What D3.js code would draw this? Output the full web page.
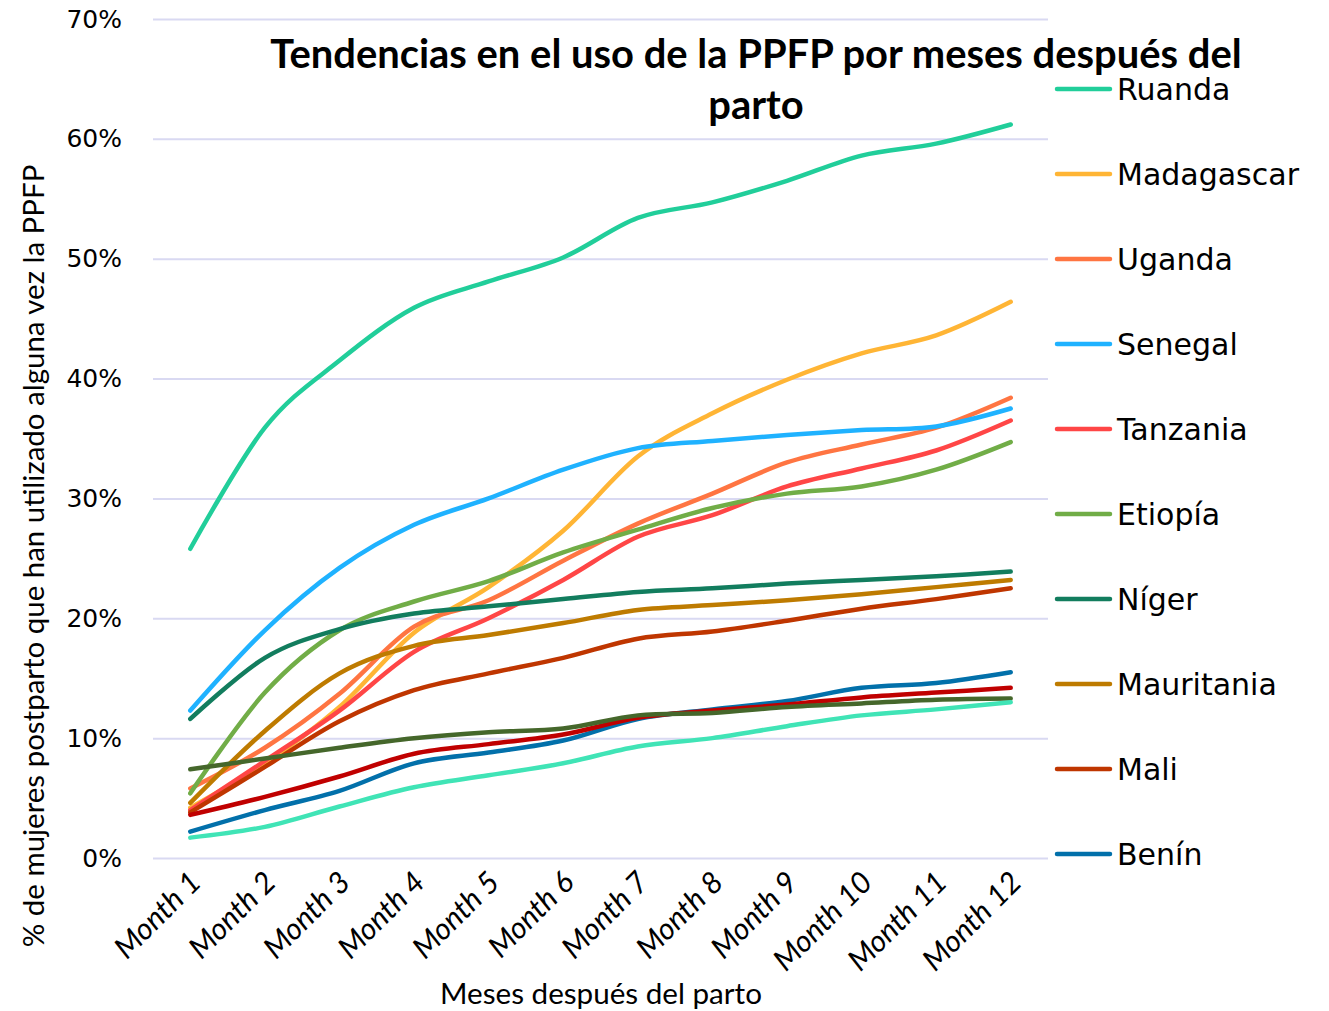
<!DOCTYPE html>
<html>
<head>
<meta charset="utf-8">
<script src="https://cdn.jsdelivr.net/npm/d3@7"></script>
<style>
  body { margin: 0; background: #fff; }
  svg { display: block; }
</style>
</head>
<body>
<svg id="chart" width="1329" height="1011"></svg>
<script>
// data (% of women)
var months = ["Month 1", "Month 2", "Month 3", "Month 4", "Month 5", "Month 6",
              "Month 7", "Month 8", "Month 9", "Month 10", "Month 11", "Month 12"];
var yTicks = [0, 0.1, 0.2, 0.3, 0.4, 0.5, 0.6, 0.7];

var ruanda     = [25.8, 35.9, 41.5, 45.9, 48.1, 50.1, 53.4, 54.7, 56.5, 58.6, 59.6, 61.2];
var madagascar = [4.2, 7.9, 12.6, 18.8, 22.6, 27.3, 33.5, 37.1, 39.9, 42.1, 43.6, 46.4];
var uganda     = [5.8, 9.2, 13.7, 19.3, 21.5, 24.8, 27.9, 30.4, 33.0, 34.5, 35.9, 38.4];
var senegal    = [12.3, 19.0, 24.2, 27.8, 30.0, 32.4, 34.2, 34.8, 35.3, 35.7, 36.0, 37.5];
var tanzania   = [4.0, 8.1, 12.3, 17.2, 20.0, 23.2, 26.8, 28.6, 31.0, 32.5, 34.0, 36.5];
var etiopia    = [5.4, 13.8, 19.0, 21.4, 23.1, 25.5, 27.4, 29.2, 30.4, 31.0, 32.4, 34.7];
var niger      = [11.6, 16.7, 19.1, 20.4, 21.0, 21.6, 22.2, 22.5, 22.9, 23.2, 23.5, 23.9];
var mauritania = [4.6, 10.6, 15.4, 17.7, 18.6, 19.6, 20.7, 21.1, 21.5, 22.0, 22.6, 23.2];
var mali       = [3.8, 7.6, 11.4, 14.0, 15.4, 16.7, 18.3, 18.9, 19.8, 20.8, 21.6, 22.5];
var benin      = [2.2, 4.0, 5.6, 7.9, 8.8, 9.8, 11.6, 12.4, 13.1, 14.2, 14.6, 15.5];
// three more series drawn in the chart but cut off from its legend
var serie11    = [3.6, 5.1, 6.8, 8.7, 9.5, 10.3, 11.7, 12.3, 12.8, 13.4, 13.8, 14.2];
var serie12    = [7.4, 8.3, 9.2, 10.0, 10.5, 10.8, 11.9, 12.1, 12.6, 12.9, 13.2, 13.3];
var serie13    = [1.7, 2.6, 4.3, 5.9, 6.9, 7.9, 9.3, 10.0, 11.0, 11.9, 12.4, 13.0];

var series = [
  {name: "Ruanda",     values: ruanda,     color: "#21CE9A", legend: true},
  {name: "Madagascar", values: madagascar, color: "#FFB535", legend: true},
  {name: "Uganda",     values: uganda,     color: "#FF7542", legend: true},
  {name: "Senegal",    values: senegal,    color: "#1FB2FF", legend: true},
  {name: "Tanzania",   values: tanzania,   color: "#FF4646", legend: true},
  {name: "Etiopía",    values: etiopia,    color: "#71AD47", legend: true},
  {name: "Níger",      values: niger,      color: "#127D5E", legend: true},
  {name: "Mauritania", values: mauritania, color: "#BE7B00", legend: true},
  {name: "Mali",       values: mali,       color: "#BF3600", legend: true},
  {name: "Benín",      values: benin,      color: "#0270AA", legend: true},
  {name: "Serie 11",   values: serie11,    color: "#C00000", legend: false},
  {name: "Serie 12",   values: serie12,    color: "#45672B", legend: false},
  {name: "Serie 13",   values: serie13,    color: "#40E4B6", legend: false}
];

var svg = d3.select("#chart"),
    plot = {left: 153, right: 1048, top: 19, bottom: 858};

var xScale = d3.scalePoint().domain(months).range([plot.left, plot.right]).padding(0.5),
    yScale = d3.scaleLinear().domain([0, 0.7]).range([plot.bottom, plot.top]);

// shrink a text's font until it fits a given width
function fitWidth(sel, w) {
  var size = parseFloat(sel.attr("font-size"));
  var len = sel.node().getComputedTextLength();
  sel.attr("font-size", size * w / len);
}

// gridlines + y labels
var yAxis = d3.axisLeft(yScale)
    .tickValues(yTicks)
    .tickSize(-(plot.right - plot.left))
    .tickFormat(d3.format(".0%"));

svg.append("g")
    .attr("class", "axis axis--y")
    .attr("transform", "translate(" + plot.left + ",0)")
    .call(yAxis)
    .call(function(g) {
      g.select(".domain").remove();
      g.selectAll(".tick line").attr("stroke", "#D9D9F2").attr("stroke-width", 2);
      g.selectAll(".tick text")
        .attr("x", -31)
        .attr("fill", "#000")
        .attr("font-family", "DejaVu Sans")
        .attr("font-size", 25);
    });

// x labels, rotated
var xAxis = d3.axisBottom(xScale).tickSize(0);
svg.append("g")
    .attr("class", "axis axis--x")
    .attr("transform", "translate(0," + plot.bottom + ")")
    .call(xAxis)
    .call(function(g) {
      g.select(".domain").remove();
      g.selectAll(".tick text")
        .attr("fill", "#000")
        .attr("font-family", "Lato")
        .attr("font-style", "italic")
        .attr("font-size", 30)
        .attr("text-anchor", "end")
        .attr("dy", 0)
        .attr("transform", "translate(10,24) rotate(-45)");
    });

// lines
var line = d3.line()
    .x(function(d, i) { return xScale(months[i]); })
    .y(function(d) { return yScale(d / 100); })
    .curve(d3.curveCardinal.tension(0));

svg.append("g").selectAll(".line")
  .data(series)
  .enter().append("path")
    .attr("class", "line")
    .attr("d", function(d) { return line(d.values); })
    .attr("fill", "none")
    .attr("stroke", function(d) { return d.color; })
    .attr("stroke-width", 4.5)
    .attr("stroke-linecap", "round")
    .attr("stroke-linejoin", "round");

// title
var title = svg.append("g")
    .attr("font-family", "Lato")
    .attr("font-weight", "bold")
    .attr("text-anchor", "middle");
var t1 = title.append("text")
    .attr("x", 756).attr("y", 68)
    .attr("font-size", 34)
    .text("Tendencias en el uso de la PPFP por meses después del");
fitWidth(t1, 972);
title.append("text")
    .attr("x", 756).attr("y", 119)
    .attr("font-size", t1.attr("font-size"))
    .text("parto");

// axis titles
var yTitle = svg.append("text")
    .attr("transform", "translate(44,556) rotate(-90)")
    .attr("text-anchor", "middle")
    .attr("font-family", "Lato")
    .attr("font-size", 25)
    .text("% de mujeres postparto que han utilizado alguna vez la PPFP");
fitWidth(yTitle, 783);

var xTitle = svg.append("text")
    .attr("x", 601).attr("y", 1004)
    .attr("text-anchor", "middle")
    .attr("font-family", "Lato")
    .attr("font-size", 26)
    .text("Meses después del parto");
fitWidth(xTitle, 322);

// legend
var legend = svg.append("g").selectAll(".legend")
  .data(series.filter(function(d) { return d.legend; }))
  .enter().append("g")
    .attr("class", "legend")
    .attr("transform", function(d, i) { return "translate(1057," + (89 + i * 85) + ")"; });

legend.append("line")
    .attr("x1", 0).attr("x2", 53)
    .attr("stroke", function(d) { return d.color; })
    .attr("stroke-width", 4.5)
    .attr("stroke-linecap", "round");

legend.append("text")
    .attr("x", 60)
    .attr("dy", "0.36em")
    .attr("font-family", "DejaVu Sans")
    .attr("font-size", 30)
    .text(function(d) { return d.name; });
</script>
</body>
</html>
